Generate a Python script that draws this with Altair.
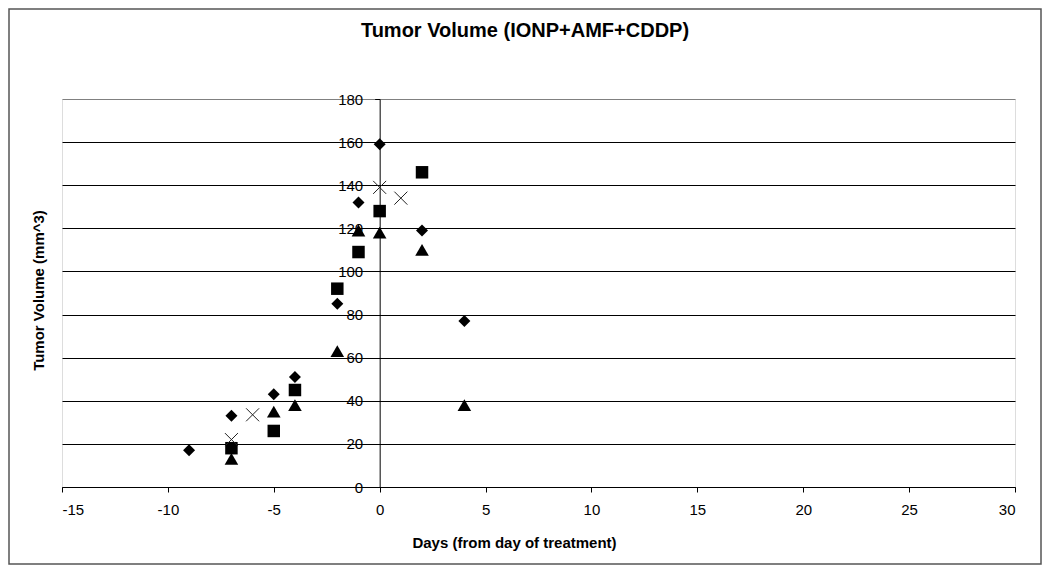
import altair as alt
import pandas as pd

TITLE = "Tumor Volume (IONP+AMF+CDDP)"
X_TITLE = "Days (from day of treatment)"
Y_TITLE = "Tumor Volume (mm^3)"
x_ticks = [-15, -10, -5, 0, 5, 10, 15, 20, 25, 30]
y_ticks = [0, 20, 40, 60, 80, 100, 120, 140, 160, 180]

diamond_days = [-9, -7, -5, -4, -2, -1, 0, 2, 4]
diamond_vol = [17, 33, 43, 51, 85, 132, 159, 119, 77]
square_days = [-7, -5, -4, -2, -1, 0, 2]
square_vol = [18, 26, 45, 92, 109, 128, 146]
triangle_days = [-7, -5, -4, -2, -1, 0, 2, 4]
triangle_vol = [13, 35, 38, 63, 119, 118, 110, 38]
cross_days = [-7, -6, 0, 1]
cross_vol = [22, 33.5, 139, 134]

series = [
    ("Series 1", diamond_days, diamond_vol),
    ("Series 2", square_days, square_vol),
    ("Series 3", triangle_days, triangle_vol),
    ("Series 4", cross_days, cross_vol),
]
rows = []
for name, days, vols in series:
    for d, v in zip(days, vols):
        rows.append({"series": name, "day": d, "volume": v})
df = pd.DataFrame(rows)

FONT = "Liberation Sans"
W, H = 953, 388
x0_px = (0 - (-15)) / 45 * W

x_scale = alt.Scale(domain=[-15, 30], nice=False)
y_scale = alt.Scale(domain=[0, 180], nice=False, zero=False)

x_axis = alt.Axis(
    values=x_ticks, grid=False, domainColor="black", tickColor="black",
    tickSize=5, labelFont=FONT, labelFontSize=15, labelColor="black",
    labelPadding=10, labelExpr="'' + datum.value",
    title=X_TITLE, titleFont=FONT, titleFontSize=15,
    titleFontWeight="bold", titleColor="black", titleX=452, titleY=55,
    titleAlign="center", titleBaseline="middle",
)
y_axis = alt.Axis(
    values=y_ticks, offset=-x0_px, domainColor="black", tickColor="black",
    tickSize=5, labelFont=FONT, labelFontSize=15, labelColor="black",
    labelPadding=12, grid=True,
    gridColor=alt.condition("datum.value == 180", alt.value("#808080"), alt.value("black")),
    gridWidth=1, gridOpacity=1,
    title=Y_TITLE, titleFont=FONT, titleFontSize=15, titleFontWeight="bold",
    titleColor="black", titleX=-24 - x0_px, titleY=191, titleAngle=-90,
    titleAlign="center", titleBaseline="middle",
)

X = alt.X("day:Q", scale=x_scale, axis=x_axis)
Y = alt.Y("volume:Q", scale=y_scale, axis=y_axis)

frame = alt.Chart(pd.DataFrame({"k": [0]})).mark_rect(
    fillOpacity=0, stroke="#555555", strokeWidth=1.5
).encode(x=alt.value(-53), x2=alt.value(979), y=alt.value(-90), y2=alt.value(465))

def filled_layer(name, shape, size):
    return alt.Chart(df).transform_filter(alt.datum.series == name).mark_point(
        shape=shape, filled=True, color="black", opacity=1, size=size, strokeWidth=0
    ).encode(x=X, y=Y)

diam = filled_layer("Series 1", "diamond", 144)
sq = filled_layer("Series 2", "square", 156)
tri = filled_layer("Series 3", "triangle-up", 185)
cross = alt.Chart(df).transform_filter(alt.datum.series == "Series 4").mark_point(
    shape="M-1,-1L1,1M-1,1L1,-1", filled=False, color="#222222", opacity=1,
    size=169, strokeWidth=1
).encode(x=X, y=Y)

chart = alt.layer(frame, diam, sq, tri, cross).properties(
    width=W, height=H,
    autosize=alt.AutoSizeParams(type="none"),
    padding={"left": 54, "top": 91, "right": 27, "bottom": 78},
    title=alt.TitleParams(
        TITLE, font=FONT, fontSize=20, fontWeight="bold", color="black",
        anchor="middle", frame="group", offset=59, dy=92, dx=-13.5,
    ),
).configure_view(stroke="#808080", strokeWidth=1).configure(background="white")

chart.save("out.html", embed_options={"renderer": "svg", "actions": False})
